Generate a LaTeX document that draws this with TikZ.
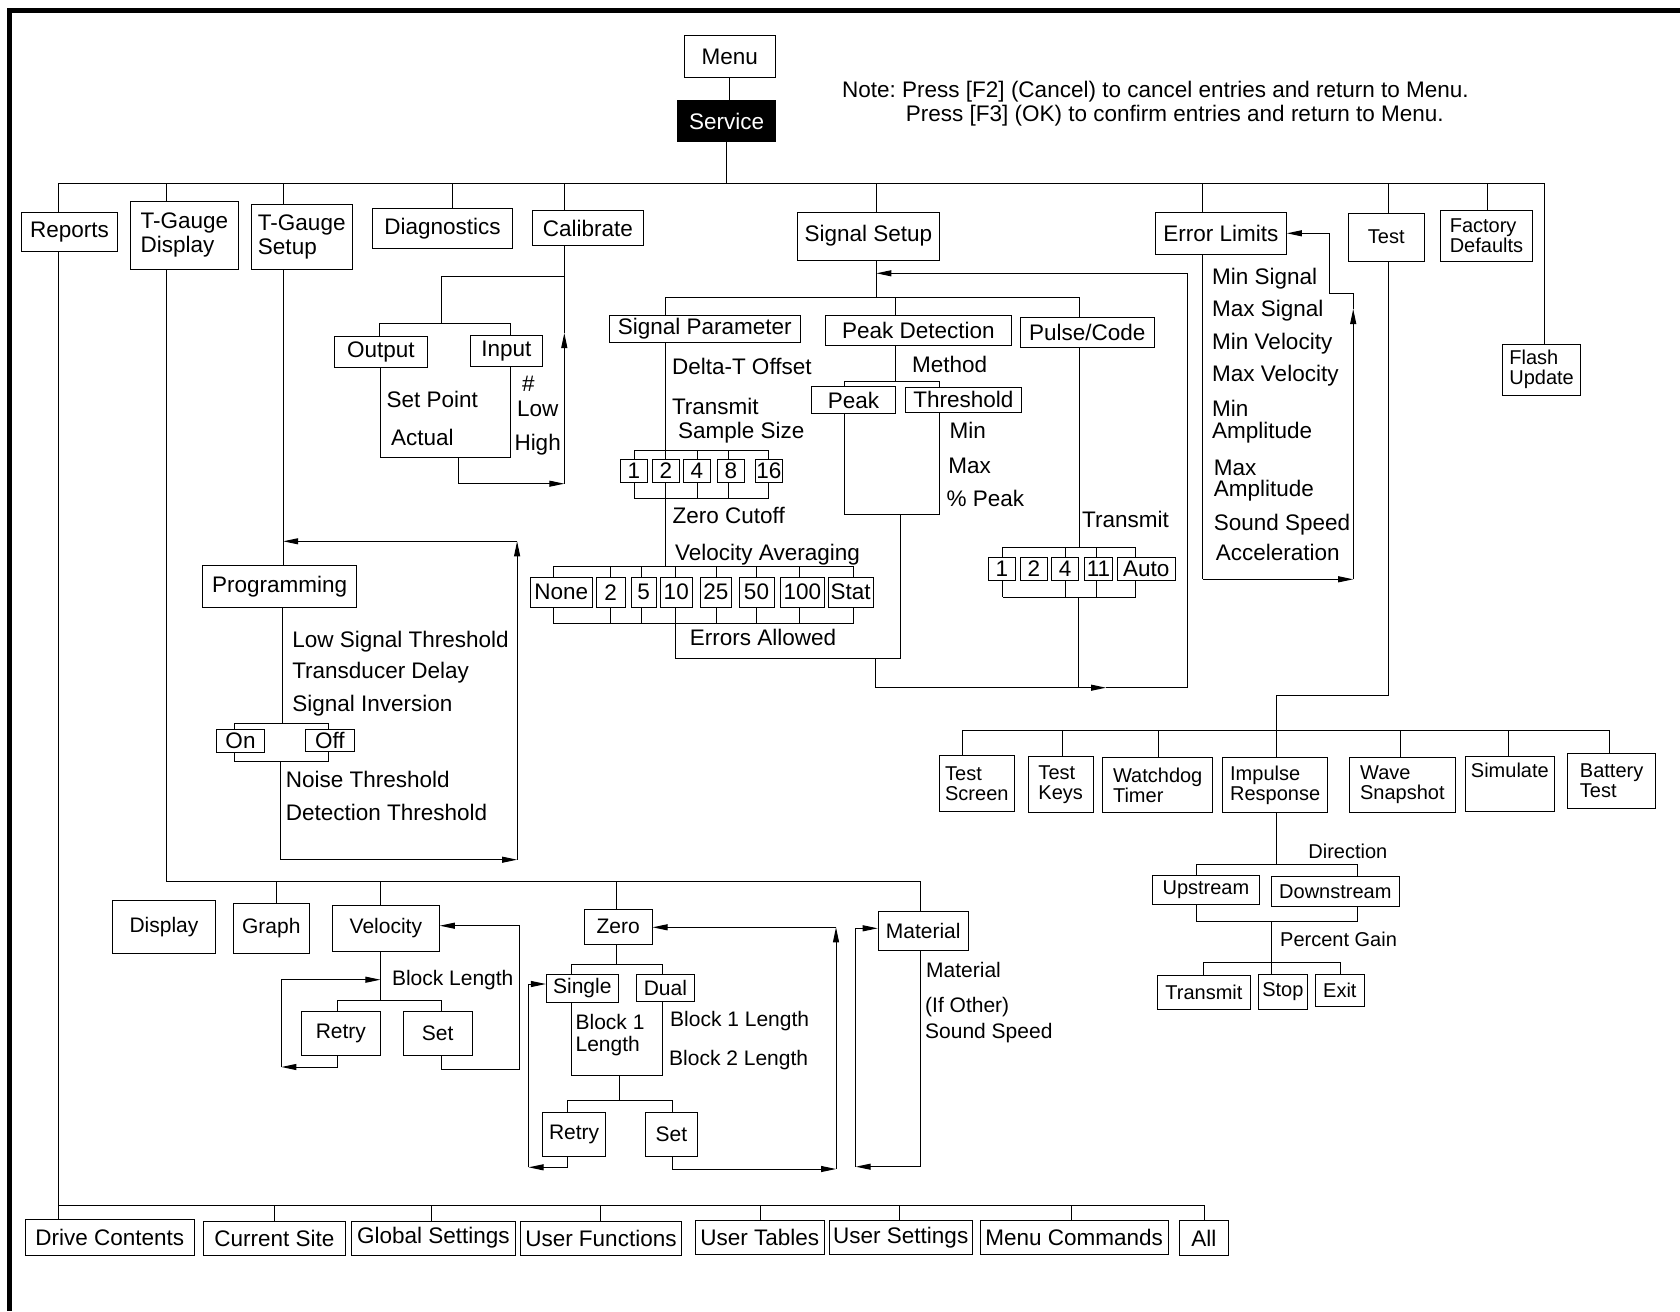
\documentclass[tikz,border=0pt]{standalone}
\usepackage{fontspec}
\setmainfont{Liberation Sans}
\usetikzlibrary{arrows.meta, backgrounds}
\frenchspacing

% box given by its corners: [style]{name}{x1}{y1}{x2}{y2}{text}
\newcommand{\menubox}[7][]{%
  \node[box, #1, minimum width={#5-#3}, minimum height={#6-#4}]
    (#2) at ({(#3+#5)/2}, {(#4+#6)/2}) {#7};}

\tikzset{
  box/.style={draw, line width=1pt, fill=white, inner sep=0pt, align=center,
              font=\fontsize{22.5}{24}\selectfont},
  midbox/.style={box, font=\fontsize{21}{22}\selectfont},
  smallbox/.style={box, align=left, font=\fontsize{20}{20}\selectfont},
  lbl/.style={anchor=west, inner sep=0pt, text height=16pt, text depth=0pt,
              font=\fontsize{22.5}{24}\selectfont},
  midlbl/.style={lbl, text height=15pt, font=\fontsize{21}{22}\selectfont},
  smalllbl/.style={lbl, text height=14.3pt, font=\fontsize{20}{20}\selectfont},
  link/.style={line width=1pt},
  arr/.style={link, -{Triangle[length=15pt, width=6pt]}},
}

\begin{document}
\begin{tikzpicture}[x=1pt, y=-1pt]
\useasboundingbox (0,0) rectangle (1680,1311);
\draw[line width=5pt] (1680,10.5) -| (9,1311);

% top
\menubox{menu}{684}{36}{775.7}{77.3}{Menu}
\menubox[fill=black, text=white]{service}{677.5}{101}{775.7}{141.7}{Service}
\node[lbl] (note1) at (842,90) {Note: Press [F2] (Cancel) to cancel entries and return to Menu.};
\node[lbl] (note2) at (905.7,113.3) {Press [F3] (OK) to confirm entries and return to Menu.};

% first level
\menubox{reports}{21.4}{212.3}{117.5}{251.3}{Reports}
\menubox[align=left]{tgdisp}{130.4}{201.3}{238.2}{269.3}{T-Gauge\\Display}
\menubox[align=left]{tgsetup}{251}{204.3}{352.5}{269.3}{T-Gauge\\Setup}
\menubox{diag}{372.5}{208.3}{512.5}{248.3}{Diagnostics}
\menubox{calib}{532.5}{210.3}{643.2}{245.7}{Calibrate}
\menubox{sigsetup}{797.5}{212.3}{939.3}{260}{Signal Setup}
\menubox{errlim}{1155.4}{212.3}{1286.4}{254}{Error Limits}
\menubox[smallbox, align=center]{test}{1348.2}{213.3}{1424.3}{261}{Test}
\menubox[smallbox]{factory}{1440.4}{210.7}{1532.5}{261}{Factory\\Defaults}
\menubox[smallbox]{flash}{1502.5}{344.3}{1580.7}{395.3}{Flash\\Update}

% calibrate
\menubox{output}{334.3}{336}{427.5}{367}{Output}
\menubox{input}{470.4}{335.3}{542.5}{366.3}{Input}
\node[lbl] (setpoint) at (386.4,399) {Set Point};
\node[lbl] (actual) at (391,437) {Actual};
\node[lbl] (hash) at (522,383.3) {\#};
\node[lbl] (low) at (516.8,408.3) {Low};
\node[lbl] (high) at (514.3,442.5) {High};

% signal setup
\menubox{sigparam}{609.3}{315.3}{800.4}{342.3}{Signal Parameter}
\menubox{peakdet}{825.4}{315.3}{1011.4}{345.3}{Peak Detection}
\menubox{pulse}{1020.4}{317.7}{1154.3}{347.3}{Pulse/Code}
\node[lbl] (deltat) at (671.8,366.7) {Delta-T Offset};
\node[lbl] (transmit) at (671.8,406.7) {Transmit};
\node[lbl] (sample) at (677.9,430) {Sample Size};
\foreach \n/\a/\b/\t in {s1/620.4/647.1/1, s2/652.5/679.3/2, s4/683.2/710.4/4,
                         s8/717.1/744.6/8, s16/755.4/782.5/16}
  \menubox{\n}{\a}{459.3}{\b}{482}{\t};
\node[lbl] (zerocut) at (672.5,515.3) {Zero Cutoff};
\node[lbl] (velavg) at (675,552) {Velocity Averaging};
\foreach \n/\a/\b/\t in {vnone/530.4/592.1/None, v2/596/625.4/2, v5/631/656.4/5,
                         v10/660.4/692.1/10, v25/700.4/731.4/25, v50/739/774/50,
                         v100/780.4/824.3/100, vstat/828.2/873.2/Stat}
  \menubox{\n}{\a}{577.3}{\b}{607}{\t};
\node[lbl] (errallow) at (689.6,637) {Errors Allowed};

\node[lbl] (method) at (911.8,364) {Method};
\menubox{peak}{811.8}{386.3}{895.4}{413.7}{Peak}
\menubox{threshold}{905.4}{387.3}{1021.4}{412.3}{Threshold}
\node[lbl] (pkmin) at (949.3,430) {Min};
\node[lbl] (pkmax) at (948.2,465.3) {Max};
\node[lbl] (pkpct) at (946.4,498.7) {\% Peak};

\node[lbl] (ptransmit) at (1082,519.7) {Transmit};
\foreach \n/\a/\b/\t in {p1/988.2/1015.4/1, p2/1020.4/1047.5/2, p4/1051.4/1078.6/4,
                         p11/1084.6/1112.5/11, pauto/1117/1175.4/Auto}
  \menubox{\n}{\a}{557.5}{\b}{580}{\t};

% error limits
\node[lbl] (elminsig) at (1212,276.7) {Min Signal};
\node[lbl] (elmaxsig) at (1212,308.3) {Max Signal};
\node[lbl] (elminvel) at (1212,341.7) {Min Velocity};
\node[lbl] (elmaxvel) at (1212,373.3) {Max Velocity};
\node[lbl] (elmina) at (1212,408.3) {Min};
\node[lbl] (elminb) at (1212,430) {Amplitude};
\node[lbl] (elmaxa) at (1213.6,467) {Max};
\node[lbl] (elmaxb) at (1213.6,488.7) {Amplitude};
\node[lbl] (elsound) at (1213.6,522) {Sound Speed};
\node[lbl] (elaccel) at (1215.7,552) {Acceleration};

% test
\menubox[smallbox]{tscreen}{939.3}{755.3}{1014.3}{811.3}{Test\\Screen}
\menubox[smallbox]{tkeys}{1028.2}{756.3}{1093.2}{812.3}{Test\\Keys}
\menubox[smallbox]{watchdog}{1102.5}{757.7}{1212.9}{812}{Watchdog\\Timer}
\menubox[smallbox]{impulse}{1222.5}{757.7}{1327.9}{812}{Impulse\\Response}
\menubox[smallbox]{wave}{1349.3}{757.7}{1455.4}{812}{Wave\\Snapshot}
\menubox[smallbox]{simulate}{1465.4}{756.3}{1554.3}{811}{Simulate\\\strut}
\menubox[smallbox]{battery}{1567.5}{753.7}{1655.7}{808}{Battery\\Test}
\node[smalllbl] (direction) at (1308.2,851.3) {Direction};
\menubox[smallbox]{upstream}{1152.5}{875.7}{1259.3}{904.3}{Upstream}
\menubox[smallbox]{downstream}{1271.4}{876.7}{1399.3}{906}{Downstream}
\node[smalllbl] (pgain) at (1280,939) {Percent Gain};
\menubox[smallbox]{irtransmit}{1157.5}{975}{1250.4}{1009}{Transmit}
\menubox[smallbox]{stop}{1258.2}{974}{1307.5}{1009}{Stop}
\menubox[smallbox]{exit}{1315.4}{974}{1364.3}{1006.3}{Exit}

% t-gauge setup
\menubox{prog}{202.5}{565.3}{356.8}{607.3}{Programming}
\node[lbl] (lowsig) at (292.1,639.3) {Low Signal Threshold};
\node[lbl] (tdelay) at (292.1,670.3) {Transducer Delay};
\node[lbl] (siginv) at (292.1,703.7) {Signal Inversion};
\menubox{onbox}{216.4}{729.3}{264.6}{752}{On}
\menubox{offbox}{305.4}{729.3}{354.3}{751.3}{Off}
\node[lbl] (noise) at (285.7,779.3) {Noise Threshold};
\node[lbl] (detect) at (285.7,812) {Detection Threshold};

% t-gauge display
\menubox[midbox]{display}{112.5}{900.3}{215.4}{953.3}{Display}
\menubox[midbox]{graph}{233.2}{903}{309.3}{953.3}{Graph}
\menubox[midbox]{velocity}{332.5}{905.3}{439.3}{951.3}{Velocity}
\menubox[midbox]{zero}{584.3}{909.3}{652.1}{944.3}{Zero}
\menubox[midbox]{material}{878.2}{911.3}{968.2}{950.3}{Material}
\node[midlbl] (blocklen) at (391.8,978) {Block Length};
\menubox[midbox]{retryv}{301.4}{1011.7}{380.4}{1055.7}{Retry}
\menubox[midbox]{setv}{403.2}{1011.7}{472.1}{1055.7}{Set}
\menubox[midbox]{single}{546.4}{974}{618.2}{1002.3}{Single}
\menubox[midbox]{dual}{636.4}{974}{694.3}{1001.3}{Dual}
\node[midlbl] (blk1a) at (575.4,1021.7) {Block 1};
\node[midlbl] (blk1b) at (575.4,1044) {Length};
\node[midlbl] (blk1len) at (670,1019) {Block 1 Length};
\node[midlbl] (blk2len) at (669,1058) {Block 2 Length};
\menubox[midbox]{retryz}{542.9}{1112.3}{605.4}{1156.3}{Retry}
\menubox[midbox]{setz}{645.4}{1112.3}{697.5}{1156.3}{Set}
\node[midlbl] (matlbl) at (926,969.7) {Material};
\node[midlbl] (ifother) at (925,1004.7) {(If Other)};
\node[midlbl] (soundsp) at (925,1031.3) {Sound Speed};

% bottom row
\menubox{drive}{25.4}{1219.3}{194.3}{1255}{Drive Contents}
\menubox{current}{203.2}{1221.3}{345.4}{1255}{Current Site}
\menubox{global}{351.4}{1221.3}{515.4}{1255}{Global Settings}
\menubox{userfunc}{520.4}{1221.3}{681.4}{1255}{User Functions}
\menubox{usertab}{695.4}{1220.7}{824.3}{1254.3}{User Tables}
\menubox{userset}{829}{1220.7}{972.5}{1254.3}{User Settings}
\menubox{menucmd}{980}{1220.7}{1168.2}{1254.3}{Menu Commands}
\menubox{all}{1179.3}{1220.7}{1228.2}{1255}{All}

\begin{scope}[on background layer]
% menu to first level
\draw[link] (menu.south) -- (menu.south |- service.north);
\coordinate (busL) at (58.2,183.3);
\coordinate (busR) at (1544.3,183.3);
\draw[link] (service.south) -- (service.south |- busL);
\draw[link] (busL) -- (busR);
\foreach \n/\x in {reports/58.2, tgdisp/166.4, tgsetup/283.2, diag/452.5, calib/564.3,
                   sigsetup/876.4, errlim/1202.5, test/1388.2, factory/1487.5, flash/1544.3}{
  \coordinate (top-\n) at (\x,183.3);
  \draw[link] (top-\n) -- (top-\n |- \n.north);
}

% reports down to bottom row
\draw[link] (top-reports |- reports.south) -- (top-reports |- drive.north);
\coordinate (botL) at (58.2,1205.3);
\foreach \n/\x in {current/274.3, global/431.4, userfunc/600.4, usertab/760.4,
                   userset/899.3, menucmd/1071.4, all/1204.6}{
  \coordinate (bot-\n) at (\x,1205.3);
  \draw[link] (bot-\n) -- (bot-\n |- \n.north);
}
\draw[link] (botL) -- (bot-all);

% calibrate
\coordinate (cal-j) at (564.3,276.3);
\coordinate (cal-k) at (441.8,276.3);
\coordinate (cal-br) at (441.8,323.3);
\coordinate (out-t) at (379.6,323.3);
\coordinate (in-t) at (510.4,323.3);
\draw[link] (top-calib |- calib.south) -- (cal-j) -- (cal-k) -- (cal-br);
\draw[link] (out-t |- output.north) -- (out-t) -- (in-t) -- (in-t |- input.north);
\coordinate (oi-l) at (380.4,457.7);
\coordinate (oi-r) at (510.4,457.7);
\coordinate (oi-m) at (458.6,457.7);
\coordinate (cal-b) at (564.3,483.7);
\coordinate (cal-up) at (564.3,333);
\draw[link] (oi-l |- output.south) -- (oi-l) -- (oi-r) -- (oi-r |- input.south);
\draw[arr] (oi-m) |- (cal-b);
\draw[arr] (cal-b) -- (cal-up);
\draw[link] (cal-up) -- (cal-j);

% signal setup
\coordinate (ss-ret) at (876.4,273.3);
\coordinate (ss-br) at (876.4,297);
\coordinate (sp-t) at (665.4,297);
\coordinate (pd-t) at (895.4,297);
\coordinate (pc-t) at (1079.3,297);
\draw[link] (top-sigsetup |- sigsetup.south) -- (ss-br);
\draw[link] (sp-t) -- (pc-t);
\draw[link] (sp-t) -- (sp-t |- sigparam.north);
\draw[link] (pd-t) -- (pd-t |- peakdet.north);
\draw[link] (pc-t) -- (pc-t |- pulse.north);
\coordinate (ret-c) at (1187.9,687.7);
\coordinate (ret-top) at (1187.9,273.3);
\draw[arr] (ret-c) -- (ret-top) -- (ss-ret);

% signal parameter
\coordinate (va-j) at (665.4,566.3);
\draw[link] (sp-t |- sigparam.south) -- (va-j);
\foreach \n/\x in {s1/634.3, s2/665.4, s4/697.5, s8/728.2, s16/768.2}{
  \coordinate (\n-t) at (\x,450.3);
  \coordinate (\n-b) at (\x,498.7);
  \draw[link] (\n-t) -- (\n-b);
}
\draw[link] (s1-t) -- (s16-t);
\draw[link] (s1-b) -- (s16-b);
\foreach \n/\x in {vnone/553.2, v2/610.4, v5/641.8, v10/675.4, v25/716.4,
                   v50/756.4, v100/799.3, vstat/853.6}{
  \coordinate (\n-t) at (\x,566.3);
  \coordinate (\n-b) at (\x,623);
  \draw[link] (\n-t) -- (\n-b);
}
\draw[link] (vnone-t) -- (vstat-t);
\draw[link] (vnone-b) -- (vstat-b);
\coordinate (err-a) at (675.4,658.7);
\coordinate (err-b) at (900.4,658.7);
\draw[link] (v10-b) -- (err-a) -- (err-b);

% peak detection
\coordinate (pd-j) at (895.4,381);
\coordinate (pk-l) at (844,381);
\coordinate (th-r) at (939.3,381);
\draw[link] (pd-t |- peakdet.south) -- (pd-j);
\draw[link] (pk-l |- peak.north) -- (pk-l) -- (th-r) -- (th-r |- threshold.north);
\coordinate (pk-bl) at (844,514.7);
\coordinate (pk-br) at (939.3,514.7);
\coordinate (pk-b) at (900.4,514.7);
\draw[link] (pk-bl |- peak.south) -- (pk-bl) -- (pk-br) -- (pk-br |- threshold.south);
\draw[link] (pk-b) -- (err-b);
\coordinate (err-d) at (875.4,658.7);
\coordinate (err-e) at (875.4,687.7);
\coordinate (arr-tip) at (1106,687.7);
\draw[arr] (err-d) -- (err-e) -- (arr-tip);
\draw[link] (arr-tip) -- (ret-c);

% pulse/code
\foreach \n/\x in {p1/1002.5, p4/1065.7, p11/1096.4, pauto/1135.7}{
  \coordinate (\n-t) at (\x,547);
  \coordinate (\n-b) at (\x,597);
  \draw[link] (\n-t) -- (\n-b);
}
\draw[link] (p1-t) -- (pauto-t);
\draw[link] (p1-b) -- (pauto-b);
\draw[link] (pc-t |- pulse.south) -- (pc-t |- p1-t);
\coordinate (pc-d) at (1078.2,597);
\coordinate (pc-e) at (1078.2,687.7);
\draw[link] (pc-d) -- (pc-e);

% error limits
\coordinate (el-b) at (1202.5,579.3);
\coordinate (el-c) at (1353.2,579.3);
\coordinate (el-up) at (1353.2,309);
\coordinate (el-d) at (1353.2,293.3);
\coordinate (el-e) at (1329.6,293.3);
\coordinate (el-f) at (1329.6,233.3);
\draw[link] (top-errlim |- errlim.south) -- (el-b);
\draw[arr] (el-b) -- (el-c);
\draw[arr] (el-c) -- (el-up);
\draw[arr] (el-up) -- (el-d) -- (el-e) -- (el-f) -- (el-f -| errlim.east);

% test
\coordinate (ts-a) at (1388.2,695.3);
\coordinate (ts-b) at (1276.4,695.3);
\coordinate (ts-c) at (1276.4,730.3);
\draw[link] (top-test |- test.south) -- (ts-a) -- (ts-b) -- (ts-c);
\foreach \n/\x in {tscreen/962.5, tkeys/1062.5, watchdog/1158.2, impulse/1276.4,
                   wave/1400.4, simulate/1508.2, battery/1609.3}{
  \coordinate (tb-\n) at (\x,730.3);
  \draw[link] (tb-\n) -- (tb-\n |- \n.north);
}
\draw[link] (tb-tscreen) -- (tb-battery);

% impulse response
\coordinate (ir-a) at (1276.4,864.3);
\coordinate (dir-l) at (1196.4,864.3);
\coordinate (dir-r) at (1357.5,864.3);
\draw[link] (tb-impulse |- impulse.south) -- (ir-a);
\draw[link] (dir-l |- upstream.north) -- (dir-l) -- (dir-r) -- (dir-r |- downstream.north);
\coordinate (pg-l) at (1196.4,921.7);
\coordinate (pg-r) at (1357.5,921.7);
\coordinate (pg-m) at (1271.4,921.7);
\coordinate (pg-n) at (1271.4,962.3);
\draw[link] (pg-l |- upstream.south) -- (pg-l) -- (pg-r) -- (pg-r |- downstream.south);
\draw[link] (pg-m) -- (pg-n);
\coordinate (tx-l) at (1203.2,962.3);
\coordinate (ex-r) at (1340.4,962.3);
\draw[link] (tx-l |- irtransmit.north) -- (tx-l) -- (ex-r) -- (ex-r |- exit.north);
\draw[link] (pg-n) -- (pg-n |- stop.north);

% t-gauge setup
\draw[link] (top-tgsetup |- tgsetup.south) -- (top-tgsetup |- prog.north);
\coordinate (oo-j) at (282.5,723);
\coordinate (on-t) at (234.3,723);
\coordinate (off-t) at (328.2,723);
\coordinate (on-b) at (234.3,761);
\coordinate (off-b) at (328.2,761);
\draw[link] (oo-j |- prog.south) -- (oo-j);
\draw[link] (on-t |- onbox.north) -- (on-t) -- (off-t) -- (off-t |- offbox.north);
\draw[link] (on-b |- onbox.south) -- (on-b) -- (off-b) -- (off-b |- offbox.south);
\coordinate (pr-e) at (280.7,761);
\coordinate (pr-f) at (280.7,859.7);
\coordinate (pr-a) at (517.1,859.7);
\coordinate (pr-c) at (517.1,541.3);
\coordinate (pr-d) at (283.2,541.3);
\draw[arr] (pr-e) -- (pr-f) -- (pr-a);
\draw[arr] (pr-a) -- (pr-c);
\draw[arr] (pr-c) -- (pr-d);

% t-gauge display
\coordinate (dsp-a) at (166.4,881.3);
\coordinate (dsp-b) at (920.7,881.3);
\draw[link] (top-tgdisp |- tgdisp.south) -- (dsp-a) -- (dsp-b);
\foreach \n/\x in {graph/276.4, velocity/380.4, zero/616.4, material/920.7}{
  \coordinate (dv-\n) at (\x,881.3);
  \draw[link] (dv-\n) -- (dv-\n |- \n.north);
}

% velocity
\coordinate (vl-j) at (380.4,1000.7);
\coordinate (rt-t) at (337.5,1000.7);
\coordinate (st-t) at (441.8,1000.7);
\draw[link] (dv-velocity |- velocity.south) -- (vl-j);
\draw[link] (rt-t |- retryv.north) -- (rt-t) -- (st-t) -- (st-t |- setv.north);
\coordinate (rt-b) at (337.5,1067);
\coordinate (rt-c) at (281.4,1067);
\coordinate (rt-d) at (281.4,979.7);
\coordinate (rt-e) at (380.4,979.7);
\draw[arr] (rt-t |- retryv.south) -- (rt-b) -- (rt-c);
\draw[arr] (rt-c) -- (rt-d) -- (rt-e);
\coordinate (st-b) at (441.8,1069);
\coordinate (st-c) at (519.6,1069);
\coordinate (st-d) at (519.6,925.7);
\draw[arr] (st-t |- setv.south) -- (st-b) -- (st-c) -- (st-d) -- (st-d -| velocity.east);

% zero
\coordinate (zr-j) at (616.4,964);
\coordinate (sg-t) at (571.4,964);
\coordinate (du-t) at (662.9,964);
\draw[link] (dv-zero |- zero.south) -- (zr-j);
\draw[link] (sg-t |- single.north) -- (sg-t) -- (du-t) -- (du-t |- dual.north);
\coordinate (sg-b) at (571.4,1075.7);
\coordinate (du-b) at (662.9,1075.7);
\coordinate (zr-m) at (619.3,1075.7);
\coordinate (zr-n) at (619.3,1100.7);
\coordinate (rz-t) at (567.9,1100.7);
\coordinate (sz-t) at (672.5,1100.7);
\draw[link] (sg-t |- single.south) -- (sg-b) -- (du-b) -- (du-t |- dual.south);
\draw[link] (zr-m) -- (zr-n);
\draw[link] (rz-t |- retryz.north) -- (rz-t) -- (sz-t) -- (sz-t |- setz.north);
\coordinate (rz-b) at (567.9,1167.3);
\coordinate (rz-c) at (528.6,1167.3);
\coordinate (rz-d) at (528.6,984);
\draw[arr] (rz-t |- retryz.south) -- (rz-b) -- (rz-c);
\draw[arr] (rz-c) -- (rz-d) -- (rz-d -| single.west);
\coordinate (sz-b) at (672.5,1169);
\coordinate (sz-c) at (836,1169);
\coordinate (sz-e) at (836,927.3);
\draw[arr] (sz-t |- setz.south) -- (sz-b) -- (sz-c);
\draw[arr] (sz-c) -- (sz-e);
\draw[arr] (sz-e) -- (sz-e -| zero.east);

% material
\coordinate (mt-b) at (920.7,1166.7);
\coordinate (mt-c) at (855.7,1166.7);
\coordinate (mt-d) at (855.7,928.3);
\draw[arr] (dv-material |- material.south) -- (mt-b) -- (mt-c);
\draw[arr] (mt-c) -- (mt-d) -- (mt-d -| material.west);
\end{scope}
\end{tikzpicture}
\end{document}
